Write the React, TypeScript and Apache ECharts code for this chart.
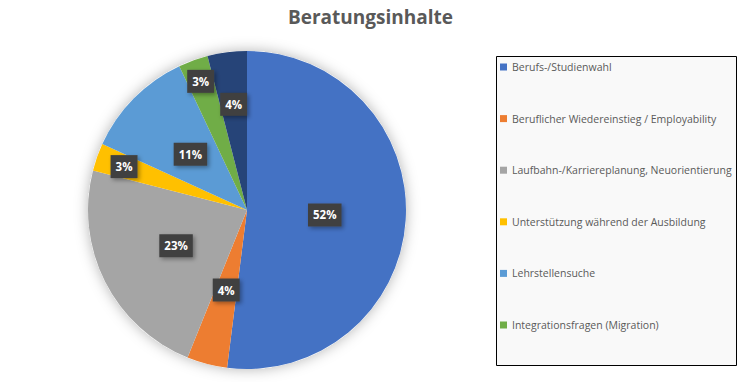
import React, { useEffect, useRef } from "react";
import * as echarts from "echarts";

const titleText = "Beratungsinhalte";
const categories = [
  "Berufs-/Studienwahl",
  "Beruflicher Wiedereinstieg / Employability",
  "Laufbahn-/Karriereplanung, Neuorientierung",
  "Unterstützung während der Ausbildung",
  "Lehrstellensuche",
  "Integrationsfragen (Migration)",
  "Sonstiges",
];
const values = [52.0, 4.1, 22.9, 2.8, 11.2, 3.0, 4.0];
const colors = ["#4472C4", "#ED7D31", "#A5A5A5", "#FFC000", "#5B9BD5", "#70AD47", "#264478"];
const legendNames = categories.slice(0, 6);
const labelRadiusFactors = [0.49, 0.52, 0.5, 0.82, 0.5, 0.86, 0.67];

const CX = 247;
const CY = 210;
const R = 159;

export default function App() {
  const ref = useRef<HTMLDivElement>(null);
  useEffect(() => {
    if (!ref.current) return;
    const chart = echarts.init(ref.current, undefined, { renderer: "svg" });
    const total = values.reduce((a, b) => a + b, 0);
    const midAngles: number[] = [];
    let acc = 0;
    values.forEach((v) => {
      midAngles.push(((acc + v / 2) / total) * Math.PI * 2);
      acc += v;
    });
    const font = "'Open Sans', 'Noto Sans', sans-serif";
    chart.setOption({
      animation: false,
      backgroundColor: "#ffffff",
      title: {
        text: titleText,
        left: "center",
        top: 7,
        padding: 0,
        textStyle: { fontFamily: font, fontSize: 19, fontWeight: "bold", color: "#595959" },
      },
      graphic: [
        {
          type: "rect",
          z: 0,
          shape: { x: 496.5, y: 56.5, width: 240, height: 309 },
          style: { fill: "#f9f9f9", stroke: "#000000", lineWidth: 1 },
        },
      ],
      legend: {
        data: legendNames,
        orient: "vertical",
        left: 500,
        top: 60,
        padding: 0,
        itemGap: 37.6,
        itemWidth: 7,
        itemHeight: 7,
        icon: "rect",
        z: 5,
        textStyle: { fontFamily: font, fontSize: 10.5, color: "#595959", lineHeight: 14 },
      },
      series: [
        {
          type: "pie",
          silent: true,
          z: 1,
          center: [CX, CY],
          radius: R,
          label: { show: false },
          labelLine: { show: false },
          data: [
            {
              value: 1,
              name: "__shadow",
              itemStyle: { color: "#ffffff", shadowBlur: 14, shadowColor: "rgba(0,0,0,0.3)" },
            },
          ],
        },
        {
          type: "pie",
          z: 2,
          center: [CX, CY],
          radius: R,
          startAngle: 90,
          clockwise: true,
          color: colors,
          itemStyle: { borderWidth: 0 },
          labelLine: { show: false },
          label: {
            show: true,
            position: "inside",
            formatter: (p: any) => Math.round(p.percent) + "%",
            fontFamily: font,
            fontSize: 11.5,
            fontWeight: "bold",
            color: "#ffffff",
            backgroundColor: "#404040",
            padding: [6, 5, 5, 5],
            shadowBlur: 4,
            shadowColor: "rgba(0,0,0,0.35)",
            shadowOffsetX: 2,
            shadowOffsetY: 2,
          },
          labelLayout: (params: any) => {
            const i = params.dataIndex;
            const a = midAngles[i];
            const r = R * labelRadiusFactors[i];
            return {
              x: CX + r * Math.sin(a),
              y: CY - r * Math.cos(a),
              align: "center",
              verticalAlign: "middle",
            };
          },
          data: categories.map((name, i) => ({ name, value: values[i] })),
        },
      ],
    });
    return () => chart.dispose();
  }, []);
  return (
    <div
      ref={ref}
      style={{ position: "fixed", left: 0, top: 0, width: 741, height: 382 }}
    />
  );
}
